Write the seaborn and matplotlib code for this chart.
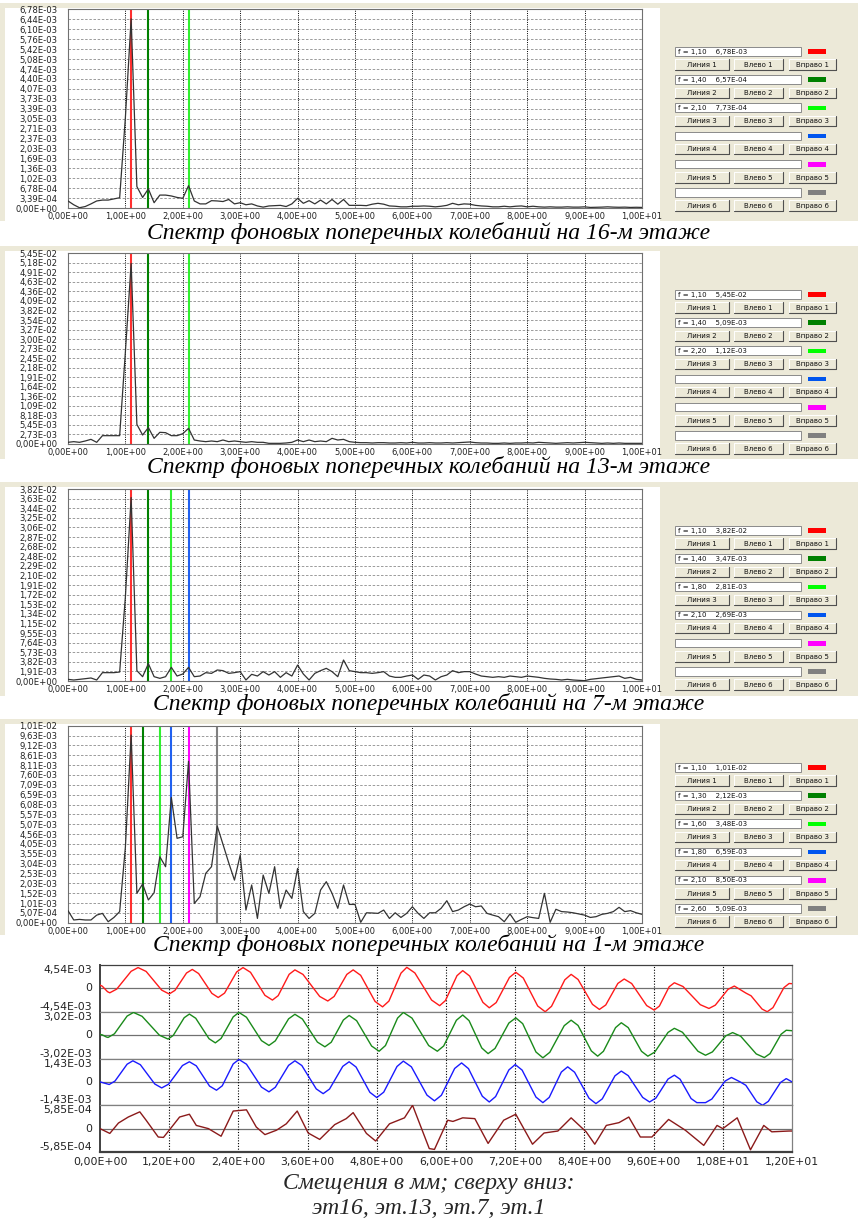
import numpy as np
import pandas as pd
import matplotlib
matplotlib.use("Agg")
import matplotlib.pyplot as plt
import seaborn as sns
from matplotlib.patches import Rectangle

sns.set_theme(style="white")
plt.rcParams['font.family'] = ['DejaVu Sans']

# ---------------- data ----------------
freq_step = 0.1
freqs = np.round(np.arange(101) * freq_step, 2)

spec16 = [0.25, 0.12, 0.02, 0.06, 0.15, 0.25, 0.28, 0.28, 0.32, 0.36,
          3.10, 6.45, 0.74, 0.37, 0.66, 0.19, 0.45, 0.45, 0.42, 0.37,
          0.34, 0.77, 0.25, 0.15, 0.15, 0.26, 0.25, 0.23, 0.30, 0.15,
          0.19, 0.12, 0.15, 0.08, 0.04, 0.08, 0.09, 0.10, 0.06, 0.15,
          0.34, 0.17, 0.26, 0.15, 0.28, 0.15, 0.30, 0.14, 0.30, 0.10,
          0.10, 0.10, 0.09, 0.14, 0.17, 0.14, 0.08, 0.07, 0.05, 0.05,
          0.07, 0.07, 0.08, 0.07, 0.05, 0.07, 0.10, 0.17, 0.12, 0.15,
          0.14, 0.10, 0.08, 0.07, 0.05, 0.05, 0.07, 0.05, 0.07, 0.08,
          0.05, 0.07, 0.05, 0.04, 0.05, 0.04, 0.04, 0.05, 0.04, 0.04,
          0.05, 0.03, 0.035, 0.04, 0.05, 0.04, 0.035, 0.04, 0.03, 0.035,
          0.03]  # E-03

spec13 = [0.48, 0.67, 0.48, 0.86, 1.33, 0.48, 2.38, 2.38, 2.38, 2.38,
          26.4, 51.6, 5.6, 2.57, 4.67, 1.62, 3.34, 3.24, 2.38, 2.38,
          2.95, 4.48, 1.14, 0.86, 0.67, 0.86, 0.67, 1.14, 0.67, 0.86,
          0.67, 0.48, 0.67, 0.48, 0.48, 0.19, 0.19, 0.19, 0.29, 0.48,
          1.14, 0.67, 1.14, 0.67, 0.86, 0.67, 1.62, 1.14, 1.33, 0.67,
          0.48, 0.38, 0.38, 0.29, 0.38, 0.38, 0.29, 0.29, 0.38, 0.29,
          0.48, 0.29, 0.29, 0.38, 0.29, 0.29, 0.38, 0.29, 0.38, 0.48,
          0.57, 0.38, 0.29, 0.29, 0.19, 0.19, 0.29, 0.19, 0.29, 0.29,
          0.38, 0.29, 0.48, 0.38, 0.29, 0.19, 0.29, 0.38, 0.29, 0.38,
          0.48, 0.38, 0.29, 0.19, 0.29, 0.19, 0.29, 0.19, 0.19, 0.19,
          0.19]  # E-03

spec7 = [0.33, 0.20, 0.33, 0.46, 0.60, 0.20, 1.66, 1.66, 1.66, 1.79,
         16.8, 36.5, 2.06, 0.86, 3.45, 0.86, 0.53, 0.86, 2.72, 0.99,
         1.39, 2.72, 0.86, 0.99, 1.66, 1.52, 2.19, 2.06, 1.52, 1.66,
         1.86, 0.20, 1.33, 0.99, 1.86, 1.19, 1.86, 0.73, 1.66, 0.99,
         3.18, 1.39, 0.20, 1.52, 2.06, 2.52, 1.86, 0.86, 4.18, 2.06,
         1.86, 1.66, 1.66, 1.52, 1.66, 1.86, 0.99, 0.73, 0.73, 0.99,
         1.19, 0.33, 1.19, 0.99, 0.20, 0.86, 1.19, 2.06, 1.66, 1.86,
         1.86, 1.39, 0.99, 0.86, 0.73, 0.86, 0.73, 0.99, 0.86, 0.73,
         0.99, 0.86, 0.73, 0.53, 0.40, 0.33, 0.20, 0.33, 0.20, 0.13,
         0.07, 0.33, 0.46, 0.60, 0.73, 0.86, 0.99, 0.53, 0.73, 0.33,
         0.20]  # E-03

spec1 = [0.62, 0.14, 0.17, 0.14, 0.14, 0.39, 0.48, 0.05, 0.27, 0.57,
         3.90, 9.65, 1.51, 1.99, 1.17, 1.54, 3.39, 2.88, 6.44, 4.34,
         4.42, 8.30, 0.99, 1.34, 2.54, 2.88, 4.97, 4.03, 3.08, 2.19,
         3.48, 0.65, 1.94, 0.22, 2.45, 1.51, 2.88, 0.74, 1.68, 1.25,
         2.79, 0.57, 0.22, 0.48, 1.68, 2.11, 1.51, 0.74, 1.94, 0.94,
         0.94, 0.02, 0.51, 0.50, 0.48, 0.65, 0.22, 0.51, 0.27, 0.48,
         0.82, 0.48, 0.22, 0.51, 0.51, 0.74, 1.13, 0.57, 0.65, 0.82,
         0.96, 0.82, 0.86, 0.48, 0.39, 0.31, 0.05, 0.45, 0.02, 0.17,
         0.31, 0.26, 0.22, 1.51, 0.02, 0.69, 0.57, 0.55, 0.51, 0.45,
         0.39, 0.27, 0.31, 0.43, 0.48, 0.57, 0.79, 0.57, 0.62, 0.51,
         0.43]  # E-03

spec_max = [6.776e-3, 5.451e-2, 3.82e-2, 1.0132e-2]

ylabels16 = ["0,00E+00", "3,39E-04", "6,78E-04", "1,02E-03", "1,36E-03", "1,69E-03", "2,03E-03",
             "2,37E-03", "2,71E-03", "3,05E-03", "3,39E-03", "3,73E-03", "4,07E-03", "4,40E-03",
             "4,74E-03", "5,08E-03", "5,42E-03", "5,76E-03", "6,10E-03", "6,44E-03", "6,78E-03"]
ylabels13 = ["0,00E+00", "2,73E-03", "5,45E-03", "8,18E-03", "1,09E-02", "1,36E-02", "1,64E-02",
             "1,91E-02", "2,18E-02", "2,45E-02", "2,73E-02", "3,00E-02", "3,27E-02", "3,54E-02",
             "3,82E-02", "4,09E-02", "4,36E-02", "4,63E-02", "4,91E-02", "5,18E-02", "5,45E-02"]
ylabels7 = ["0,00E+00", "1,91E-03", "3,82E-03", "5,73E-03", "7,64E-03", "9,55E-03", "1,15E-02",
            "1,34E-02", "1,53E-02", "1,72E-02", "1,91E-02", "2,10E-02", "2,29E-02", "2,48E-02",
            "2,68E-02", "2,87E-02", "3,06E-02", "3,25E-02", "3,44E-02", "3,63E-02", "3,82E-02"]
ylabels1 = ["0,00E+00", "5,07E-04", "1,01E-03", "1,52E-03", "2,03E-03", "2,53E-03", "3,04E-03",
            "3,55E-03", "4,05E-03", "4,56E-03", "5,07E-03", "5,57E-03", "6,08E-03", "6,59E-03",
            "7,09E-03", "7,60E-03", "8,11E-03", "8,61E-03", "9,12E-03", "9,63E-03", "1,01E-02"]
xlabels_spec = ["0,00E+00", "1,00E+00", "2,00E+00", "3,00E+00", "4,00E+00", "5,00E+00",
                "6,00E+00", "7,00E+00", "8,00E+00", "9,00E+00", "1,00E+01"]

cursors16 = [1.10, 1.40, 2.10]
cursors13 = [1.10, 1.40, 2.11]
cursors7 = [1.10, 1.40, 1.80, 2.10]
cursors1 = [1.10, 1.30, 1.60, 1.80, 2.10, 2.60]

info16 = ["f = 1,10    6,78E-03", "f = 1,40    6,57E-04", "f = 2,10    7,73E-04", "", "", ""]
info13 = ["f = 1,10    5,45E-02", "f = 1,40    5,09E-03", "f = 2,20    1,12E-03", "", "", ""]
info7 = ["f = 1,10    3,82E-02", "f = 1,40    3,47E-03", "f = 1,80    2,81E-03", "f = 2,10    2,69E-03", "", ""]
info1 = ["f = 1,10    1,01E-02", "f = 1,30    2,12E-03", "f = 1,60    3,48E-03", "f = 1,80    6,59E-03",
         "f = 2,10    8,50E-03", "f = 2,60    5,09E-03"]

captions = ["Спектр фоновых поперечных колебаний на 16-м этаже",
            "Спектр фоновых поперечных колебаний на 13-м этаже",
            "Спектр фоновых поперечных колебаний на 7-м этаже",
            "Спектр фоновых поперечных колебаний на 1-м этаже"]

# displacement records (time s, value E-03)
t_red = [0.0, 0.04, 0.13, 0.17, 0.29, 0.54, 0.66, 0.80, 1.07, 1.2, 1.30, 1.50, 1.6, 1.71, 1.94, 2.05,
         2.16, 2.37, 2.48, 2.61, 2.86, 2.99, 3.09, 3.28, 3.38, 3.52, 3.81, 3.95, 4.06, 4.28, 4.39, 4.52,
         4.77, 4.9, 5.01, 5.22, 5.32, 5.46, 5.75, 5.89, 5.99, 6.19, 6.29, 6.41, 6.64, 6.75, 6.87, 7.10,
         7.21, 7.34, 7.59, 7.72, 7.83, 8.06, 8.17, 8.29, 8.54, 8.66, 8.77, 8.98, 9.09, 9.22, 9.48, 9.61,
         9.70, 9.87, 9.96, 10.11, 10.41, 10.56, 10.67, 10.89, 11.0, 11.2, 11.29, 11.48, 11.57, 11.67,
         11.86, 11.95, 12.0]
v_red = [0.64, 0.42, -0.64, -0.86, -0.14, 3.32, 4.04, 3.29, -0.34, -1.09, -0.39, 2.98, 3.68, 2.88,
         -0.97, -1.77, -0.92, 3.19, 4.04, 3.12, -1.35, -2.27, -1.41, 2.73, 3.59, 2.71, -1.57, -2.45,
         -1.57, 2.71, 3.59, 2.54, -2.54, -3.59, -2.47, 2.97, 4.09, 3.00, -2.27, -3.36, -2.37, 2.46,
         3.45, 2.40, -2.72, -3.77, -2.76, 2.12, 3.13, 2.01, -3.42, -4.54, -3.48, 1.66, 2.72, 1.73,
         -3.10, -4.09, -3.23, 0.96, 1.82, 0.94, -3.34, -4.22, -3.44, 0.31, 1.09, 0.36, -3.17, -3.90,
         -3.26, -0.19, 0.45, -0.91, -1.44, -4.01, -4.54, -3.74, 0.15, 0.95, 0.91]
t_green = [0.0, 0.04, 0.11, 0.14, 0.25, 0.47, 0.58, 0.73, 1.03, 1.18, 1.27, 1.46, 1.55, 1.66, 1.89,
           2.0, 2.10, 2.31, 2.41, 2.54, 2.80, 2.93, 3.04, 3.27, 3.38, 3.51, 3.77, 3.9, 4.01, 4.22, 4.32,
           4.45, 4.71, 4.84, 4.95, 5.16, 5.26, 5.41, 5.70, 5.85, 5.96, 6.18, 6.29, 6.40, 6.62, 6.73,
           6.85, 7.09, 7.21, 7.33, 7.56, 7.68, 7.80, 8.05, 8.17, 8.29, 8.52, 8.63, 8.73, 8.94, 9.04,
           9.16, 9.39, 9.5, 9.62, 9.85, 9.96, 10.10, 10.37, 10.5, 10.62, 10.85, 10.97, 11.11, 11.38,
           11.52, 11.62, 11.81, 11.9, 12.0]
v_green = [0.09, 0.03, -0.24, -0.30, 0.17, 2.46, 2.93, 2.43, -0.01, -0.51, -0.04, 2.25, 2.72, 2.18,
           -0.46, -1.00, -0.43, 2.36, 2.93, 2.31, -0.71, -1.33, -0.74, 2.10, 2.69, 2.08, -0.90, -1.51,
           -0.92, 1.95, 2.54, 1.87, -1.41, -2.08, -1.35, 2.20, 2.93, 2.20, -1.35, -2.08, -1.40, 1.92,
           2.60, 1.87, -1.66, -2.39, -1.72, 1.56, 2.23, 1.48, -2.18, -2.93, -2.22, 1.22, 1.93, 1.25,
           -2.04, -2.72, -2.09, 0.97, 1.60, 0.97, -2.09, -2.72, -2.19, 0.35, 0.88, 0.37, -2.09, -2.60,
           -2.17, -0.10, 0.33, -0.14, -2.43, -2.90, -2.38, 0.11, 0.63, 0.57]
t_blue = [0.0, 0.16, 0.26, 0.47, 0.57, 0.70, 0.95, 1.07, 1.19, 1.43, 1.55, 1.67, 1.90, 2.02, 2.12,
          2.31, 2.41, 2.54, 2.80, 2.93, 3.04, 3.27, 3.38, 3.50, 3.75, 3.87, 3.98, 4.21, 4.32, 4.44,
          4.68, 4.8, 4.92, 5.15, 5.26, 5.40, 5.67, 5.8, 5.92, 6.15, 6.27, 6.39, 6.63, 6.75, 6.86, 7.09,
          7.2, 7.32, 7.56, 7.68, 7.79, 8.00, 8.11, 8.23, 8.48, 8.6, 8.71, 8.93, 9.04, 9.16, 9.41, 9.53,
          9.64, 9.85, 9.96, 10.06, 10.25, 10.35, 10.5, 10.61, 10.84, 10.95, 11.1, 11.20, 11.39, 11.49,
          11.59, 11.80, 11.9, 12.0]
v_blue = [0.0, -0.16, 0.05, 1.08, 1.29, 1.05, -0.13, -0.37, -0.14, 1.00, 1.23, 0.98, -0.26, -0.51,
          -0.24, 1.10, 1.37, 1.08, -0.32, -0.61, -0.33, 1.01, 1.29, 1.00, -0.43, -0.72, -0.44, 0.95,
          1.23, 0.91, -0.64, -0.96, -0.63, 0.94, 1.27, 0.92, -0.81, -1.16, -0.82, 0.82, 1.16, 0.81,
          -0.88, -1.23, -0.90, 0.73, 1.06, 0.72, -0.93, -1.27, -0.95, 0.60, 0.92, 0.59, -1.00, -1.33,
          -1.04, 0.37, 0.66, 0.38, -0.95, -1.23, -0.99, 0.17, 0.41, 0.16, -1.02, -1.27, -1.27, -1.05,
          0.05, 0.27, 0.0, -0.21, -1.22, -1.43, -1.19, -0.04, 0.20, 0.0]
t_brown = [0.0, 0.17, 0.32, 0.49, 0.69, 0.8, 1.01, 1.1, 1.2, 1.38, 1.55, 1.67, 1.88, 2.1, 2.31, 2.54,
           2.71, 2.86, 3.06, 3.23, 3.42, 3.61, 3.81, 4.07, 4.27, 4.39, 4.62, 4.78, 5.02, 5.28, 5.42,
           5.71, 5.8, 6.03, 6.12, 6.29, 6.5, 6.73, 7.0, 7.21, 7.5, 7.7, 7.94, 8.17, 8.43, 8.58, 8.78,
           9.0, 9.17, 9.37, 9.57, 9.86, 10.15, 10.47, 10.7, 10.8, 11.05, 11.28, 11.51, 11.65, 11.95, 12.0]
v_brown = [0.0, -0.12, 0.14, 0.29, 0.42, 0.21, -0.21, -0.22, -0.04, 0.29, 0.36, 0.08, 0.0, -0.19,
           0.44, 0.47, 0.04, -0.15, -0.04, 0.12, 0.44, -0.11, -0.27, 0.10, 0.25, 0.40, -0.12, -0.31,
           0.12, 0.27, 0.585, -0.50, -0.52, 0.21, 0.18, 0.27, 0.25, -0.37, 0.21, 0.36, -0.39, -0.11,
           -0.06, 0.27, -0.08, -0.39, 0.08, 0.15, 0.29, -0.21, -0.21, 0.23, -0.04, -0.42, 0.08, 0.0,
           0.27, -0.53, 0.08, -0.08, -0.06, -0.06]

wave_amp = [4.54e-3, 3.02e-3, 1.43e-3, 5.85e-4]
wave_amp_labels = ["4,54E-03", "3,02E-03", "1,43E-03", "5,85E-04"]
wave_xticks = [0.0, 1.2, 2.4, 3.6, 4.8, 6.0, 7.2, 8.4, 9.6, 10.8, 12.0]
wave_xlabels = ["0,00E+00", "1,20E+00", "2,40E+00", "3,60E+00", "4,80E+00", "6,00E+00",
                "7,20E+00", "8,40E+00", "9,60E+00", "1,08E+01", "1,20E+01"]

# ---------------- styles ----------------
BEIGE = "#ECE9D8"
cursor_colors = ["#FF3030", "#008000", "#30F030", "#2060F0", "#FF00FF", "#808080"]
swatch_colors = ["#FF0000", "#008000", "#00FF00", "#0055EE", "#FF00FF", "#808080"]
wave_colors = ["#FF1A1A", "#1A8A1A", "#1A1AFF", "#8B1A1A"]

W, H = 858, 1221
fig = plt.figure(figsize=(W / 100, H / 100), dpi=100)
fig.patch.set_facecolor("white")


def ax_at(x0, y0, x1, y1):
    return fig.add_axes([x0 / W, 1 - y1 / H, (x1 - x0) / W, (y1 - y0) / H])


bg = ax_at(0, 0, W, H)
bg.set_xlim(0, W)
bg.set_ylim(H, 0)
bg.axis("off")

panels = [
    dict(top=3, bot=221, rect=(68, 9.3, 642, 208.3), vals=spec16, lab=ylabels16, cur=cursors16, info=info16, cap=233),
    dict(top=246, bot=459, rect=(68, 253.3, 642, 444), vals=spec13, lab=ylabels13, cur=cursors13, info=info13, cap=467),
    dict(top=482, bot=696, rect=(68, 489, 642, 681), vals=spec7, lab=ylabels7, cur=cursors7, info=info7, cap=704),
    dict(top=719, bot=935, rect=(68, 725.7, 642, 922.7), vals=spec1, lab=ylabels1, cur=cursors1, info=info1, cap=945),
]


def draw_button(x0, x1, y, h, label):
    bg.add_patch(Rectangle((x0, y), x1 - x0, h, fc=BEIGE, ec="none"))
    bg.plot([x0, x1], [y, y], color="white", lw=0.7)
    bg.plot([x0, x0], [y, y + h], color="white", lw=0.7)
    bg.plot([x0, x1], [y + h, y + h], color="#505050", lw=0.8)
    bg.plot([x1, x1], [y, y + h], color="#505050", lw=0.8)
    bg.text((x0 + x1) / 2, y + h / 2 + 0.3, label, ha="center", va="center", fontsize=5.0, color="#111111")


for i, p in enumerate(panels):
    top, bot = p["top"], p["bot"]
    bg.add_patch(Rectangle((0, top), W, bot - top, fc="white", ec="none"))
    bg.add_patch(Rectangle((0, top), W, 5, fc=BEIGE, ec="none"))
    bg.add_patch(Rectangle((0, top), 5, bot - top, fc=BEIGE, ec="none"))
    bg.add_patch(Rectangle((660, top), W - 660, bot - top, fc=BEIGE, ec="none"))
    for k in range(6):
        ty = top + 44 + 28.2 * k
        bg.add_patch(Rectangle((675, ty), 126, 8.5, fc="white", ec="#8a8a8a", lw=0.7))
        if p["info"][k]:
            bg.text(678, ty + 4.6, p["info"][k], fontsize=5.0, va="center", ha="left", color="#111111")
        bg.add_patch(Rectangle((808, ty + 2.2), 18, 4.6, fc=swatch_colors[k], ec="none"))
        by = ty + 12.3
        draw_button(675, 728.5, by, 10.5, f"Линия {k + 1}")
        draw_button(734, 783, by, 10.5, f"Влево {k + 1}")
        draw_button(788.5, 836, by, 10.5, f"Вправо {k + 1}")
    bg.text(429, p["cap"], captions[i], ha="center", va="center", fontsize=17,
            family="Liberation Serif", style="italic", color="black")

    ax = ax_at(*p["rect"])
    ax.set_facecolor("white")
    ymax = spec_max[i]
    for k, fc in enumerate(p["cur"]):
        ax.axvline(fc, color=cursor_colors[k], lw=1.5, zorder=2)
    yt = np.linspace(0, ymax, 21)
    for y in yt[1:-1]:
        ax.axhline(y, color="#8c8c8c", lw=0.6, ls=(0, (3, 2)), zorder=1)
    for x in range(0, 10):
        ax.axvline(x, color="black", lw=0.7, ls=(0, (1, 1.3)), zorder=1)
    df = pd.DataFrame({"f": freqs, "a": np.array(p["vals"]) * 1e-3})
    sns.lineplot(data=df, x="f", y="a", ax=ax, color="#333333", lw=0.9, zorder=3)
    ax.set_xlim(0, 10)
    ax.set_ylim(0, ymax)
    ax.set_yticks(yt)
    ax.set_yticklabels(p["lab"])
    ax.set_xticks(range(11))
    ax.set_xticklabels(xlabels_spec)
    ax.set_xlabel("")
    ax.set_ylabel("")
    ax.tick_params(axis="y", length=0, labelsize=6.1, pad=7.5, colors="#222222")
    ax.tick_params(axis="x", length=0, labelsize=6.0, pad=3, colors="#222222")
    for s in ax.spines.values():
        s.set_color("#707070")
        s.set_linewidth(0.8)

# ---------------- displacement strips ----------------
waves = [(t_red, v_red), (t_green, v_green), (t_blue, v_blue), (t_brown, v_brown)]
y_top, y_bot = 965, 1152
sh = (y_bot - y_top) / 4
for k, (tt, vv) in enumerate(waves):
    y0 = y_top + k * sh
    ax = ax_at(100, y0, 792, y0 + sh)
    ax.set_facecolor("white")
    A = wave_amp[k]
    ax.axhline(0, color="#707070", lw=0.9, zorder=1)
    for x in wave_xticks[1:-1]:
        ax.axvline(x, color="black", lw=0.8, ls=(0, (1, 1.5)), zorder=1)
    df = pd.DataFrame({"t": tt, "v": np.array(vv) * 1e-3})
    sns.lineplot(data=df, x="t", y="v", ax=ax, color=wave_colors[k], lw=1.0, sort=False, zorder=3)
    ax.set_xlim(0, 12)
    ax.set_ylim(-A, A)
    ax.set_yticks([-A, 0, A])
    ax.set_yticklabels(["-" + wave_amp_labels[k], "0", wave_amp_labels[k]])
    for lbl, va in zip(ax.get_yticklabels(), ["bottom", "center", "top"]):
        lbl.set_va(va)
    ax.set_xticks(wave_xticks)
    if k == 3:
        ax.set_xticklabels(wave_xlabels)
    else:
        ax.set_xticklabels([])
    ax.set_xlabel("")
    ax.set_ylabel("")
    ax.tick_params(axis="y", length=0, labelsize=7.8, pad=5.5, colors="#222222")
    ax.tick_params(axis="x", length=0, labelsize=7.8, pad=3.5, colors="#222222")
    for name, s in ax.spines.items():
        s.set_color("#808080")
        s.set_linewidth(0.9)
    ax.spines["left"].set_color("#404040")
    ax.spines["left"].set_linewidth(1.4)
    if k == 3:
        ax.spines["bottom"].set_color("#404040")
        ax.spines["bottom"].set_linewidth(1.6)
    if k == 0:
        ax.spines["top"].set_color("#404040")

bg.text(429, 1183, "Смещения в мм; сверху вниз:", ha="center", va="center", fontsize=17,
        family="Liberation Serif", style="italic")
bg.text(429, 1208, "эт16, эт.13, эт.7, эт.1", ha="center", va="center", fontsize=17,
        family="Liberation Serif", style="italic")

fig.savefig("out.png", dpi=100, facecolor="white")
